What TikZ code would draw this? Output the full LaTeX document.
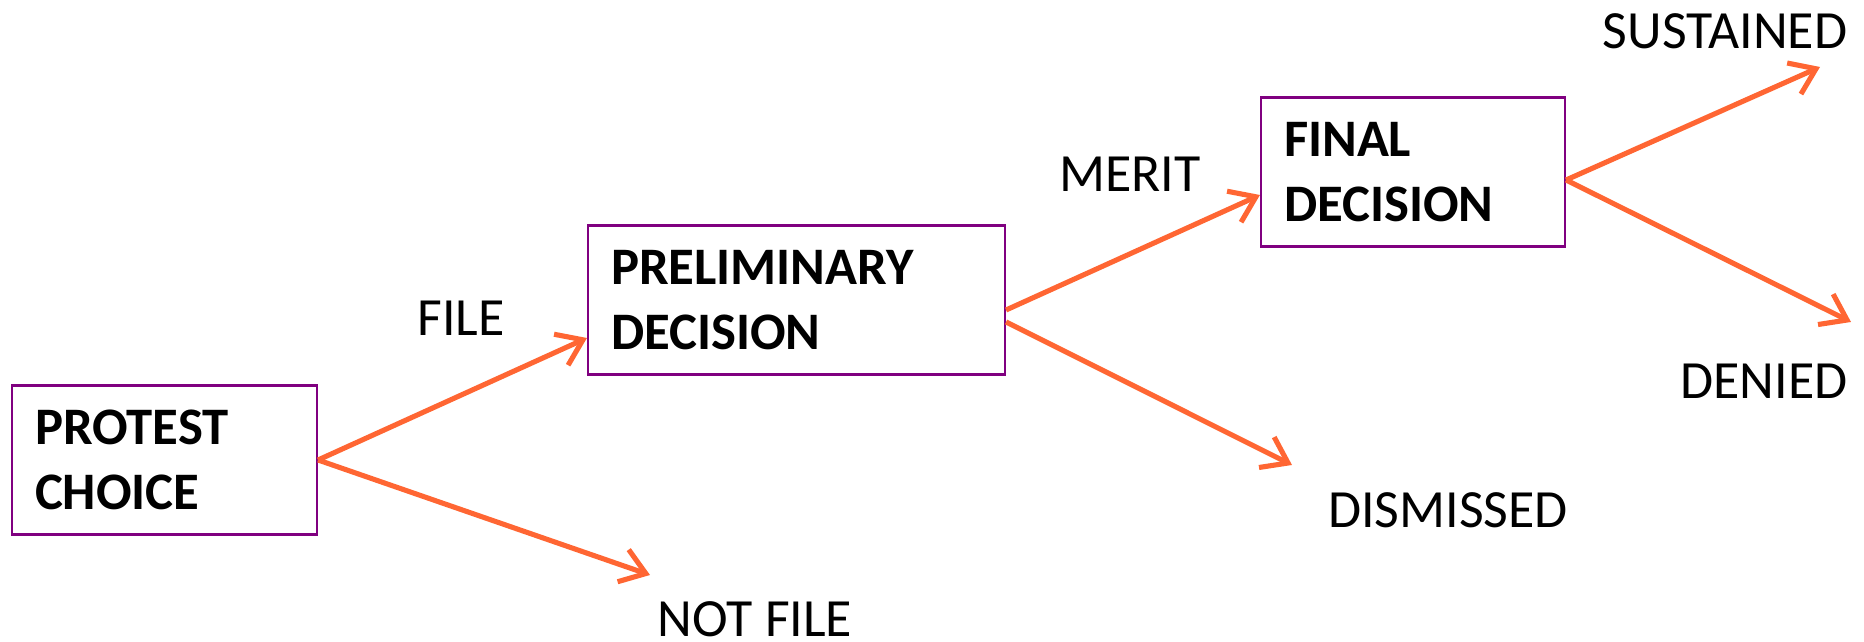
\documentclass[tikz,border=0pt]{standalone}
\usepackage{fontspec}
\setmainfont{Carlito}
\usepackage{tikz}
\usetikzlibrary{arrows.meta, positioning}

\definecolor{boxline}{RGB}{128,0,128}
\definecolor{flow}{RGB}{255,102,51}

\begin{document}
\begin{tikzpicture}[node distance=6.32cm, auto,
        stage/.style={draw=boxline, line width=0.6pt, rectangle, align=left, minimum height=1.49cm,
            inner xsep=0.23cm, font=\fontsize{15}{18.6}\selectfont\bfseries},
        outcome/.style={inner sep=0pt, font=\fontsize{15.3}{18.6}\selectfont},
        flowline/.style={-{Straight Barb[length=2.4mm, width=3.4mm]}, draw=flow, line width=1.45pt}]

        \useasboundingbox (0,0) rectangle (18.64,-6.42);

        \node (choice) [stage, text width=2.59cm] at (1.645,-4.60) {PROTEST\\CHOICE};
        \node (prelim) [stage, text width=3.71cm, right of=choice, yshift=1.6cm] {PRELIMINARY\\DECISION};
        \node (final) [stage, text width=2.58cm, right of=prelim, node distance=6.165cm, yshift=1.28cm] {FINAL\\DECISION};

        \coordinate (nofile) at (6.50,-5.75);
        \coordinate (dismiss) at (12.92,-4.65);
        \coordinate (sustain) at (18.20,-0.67);
        \coordinate (deny) at (18.51,-3.22);

        \draw[flowline] (choice.east) -- ([yshift=-0.38cm]prelim.west);
        \draw[flowline] (choice.east) -- (nofile);
        \draw[flowline] ([yshift=-0.10cm]prelim.east) -- ([yshift=-0.23cm]final.west);
        \draw[flowline] ([yshift=-0.22cm]prelim.east) -- (dismiss);
        \draw[flowline] ([yshift=-0.08cm]final.east) -- (sustain);
        \draw[flowline] ([yshift=-0.08cm]final.east) -- (deny);

        \node (filetext) [outcome] at (4.61,-3.18) {FILE};
        \node (nofiletext) [outcome] at (7.55,-6.19) {NOT FILE};
        \node (merittext) [outcome] at (11.30,-1.74) {MERIT};
        \node (dismisstext) [outcome] at (14.48,-5.10) {DISMISSED};
        \node (sustaintext) [outcome] at (17.25,-0.31) {SUSTAINED};
        \node (denytext) [outcome] at (17.64,-3.81) {DENIED};
    \end{tikzpicture}
\end{document}
